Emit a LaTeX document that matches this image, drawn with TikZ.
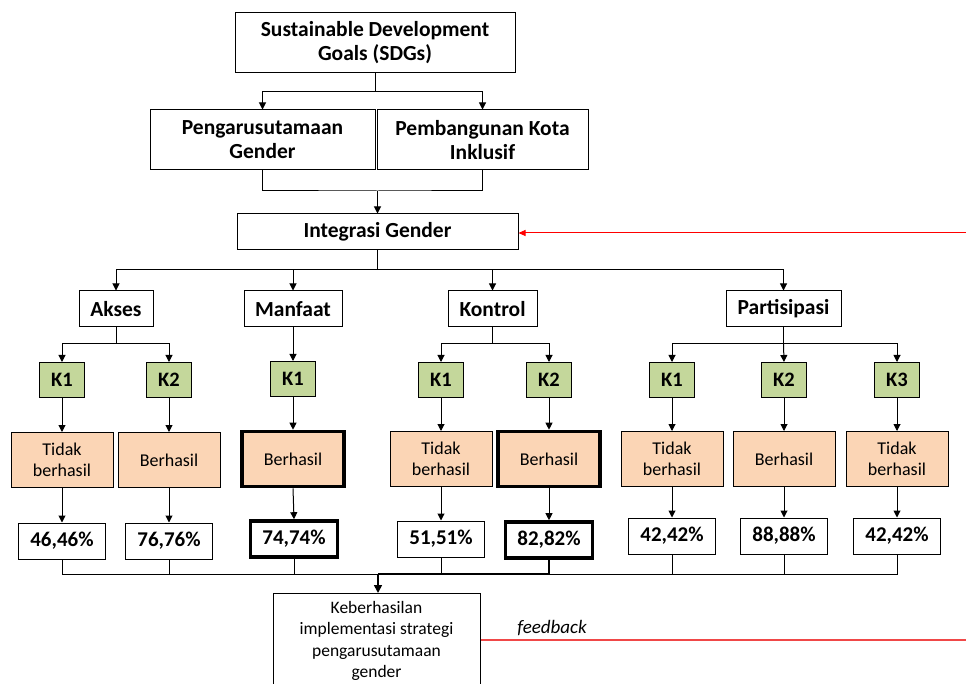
\documentclass[tikz,border=0pt]{standalone}
\usepackage{fontspec}
\setmainfont{Carlito}
\usetikzlibrary{arrows.meta}
\definecolor{kgreen}{HTML}{C4D79B}
\definecolor{korange}{HTML}{FBD5B5}
\definecolor{fbred}{HTML}{F04848}
\tikzset{
  box/.style={draw=black, line width=1pt, fill=white, align=center, inner sep=2pt},
  hdr/.style={box, font=\fontsize{21.5}{24}\selectfont\bfseries},
  kbox/.style={box, fill=kgreen, minimum width=45pt, minimum height=35pt, font=\fontsize{20.5}{23}\selectfont\bfseries},
  obox/.style={box, fill=korange, minimum width=102pt, minimum height=55pt, font=\fontsize{18}{21}\selectfont},
  pbox/.style={box, minimum width=87pt, minimum height=36pt, font=\fontsize{21}{23}\selectfont\bfseries},
  heavy/.style={line width=3.6pt},
  arr/.style={line width=1pt, -{Triangle[length=7pt,width=7pt]}},
  ln/.style={line width=1pt},
}
\begin{document}
\begin{tikzpicture}[x=1pt,y=-1pt]
\useasboundingbox (0,0) rectangle (966,684);
\clip (0,0) rectangle (966,684);
% top
\node[hdr, minimum width=280pt, minimum height=60pt] (sdg) at (375,43) {Sustainable Development\\Goals (SDGs)};
\node[hdr, minimum width=225pt, minimum height=60pt] (pg) at (262.5,140) {Pengarusutamaan\\Gender};
\node[hdr, minimum width=211pt, minimum height=60pt] (pk) at (482.5,140) {Pembangunan Kota\\Inklusif};
\node[hdr, minimum width=281pt, minimum height=36pt] (ig) at (377.5,232) {Integrasi Gender};
% dimensions
\node[hdr, minimum width=74pt, minimum height=36pt] (ak) at (116,309) {Akses};
\node[hdr, minimum width=98pt, minimum height=36pt] (mf) at (293,309) {Manfaat};
\node[hdr, minimum width=89pt, minimum height=36pt] (kt) at (492.5,309) {Kontrol};
\node[hdr, minimum width=115pt, minimum height=36pt] (pt) at (783.5,309) {Partisipasi};
% K boxes
\node[kbox] (k1) at (62,380) {K1};
\node[kbox] (k2) at (169,380) {K2};
\node[kbox] (k3) at (293,379) {K1};
\node[kbox] (k4) at (441,380) {K1};
\node[kbox] (k5) at (549,380) {K2};
\node[kbox] (k6) at (672,380) {K1};
\node[kbox] (k7) at (784,380) {K2};
\node[kbox] (k8) at (897,380) {K3};
% orange boxes
\node[obox] (o1) at (62,460) {Tidak\\berhasil};
\node[obox] (o2) at (169,460) {Berhasil};
\node[obox, heavy] (o3) at (293,459) {Berhasil};
\node[obox] (o4) at (441,459) {Tidak\\berhasil};
\node[obox, heavy] (o5) at (549,459) {Berhasil};
\node[obox] (o6) at (672,459) {Tidak\\berhasil};
\node[obox] (o7) at (784,459) {Berhasil};
\node[obox] (o8) at (897,459) {Tidak\\berhasil};
% percent boxes
\node[pbox] (p1) at (62,541) {46,46\%};
\node[pbox] (p2) at (169,541) {76,76\%};
\node[pbox, heavy] (p3) at (294,539) {74,74\%};
\node[pbox] (p4) at (441,539) {51,51\%};
\node[pbox, heavy] (p5) at (549,540) {82,82\%};
\node[pbox] (p6) at (672,536) {42,42\%};
\node[pbox] (p7) at (784,536) {88,88\%};
\node[pbox] (p8) at (897,536) {42,42\%};
% bottom
\node[box, minimum width=207pt, minimum height=95pt, anchor=north, inner sep=2pt, font=\fontsize{17.5}{21.5}\selectfont] (kb) at (376.5,593) {Keberhasilan\\implementasi strategi\\pengarusutamaan\\gender};
\node[font=\itshape\fontsize{19}{21}\selectfont] (fbl) at (552,628) {feedback};
% junctions
\coordinate (j0) at (375,92);
\coordinate (j1) at (377.5,191);
\coordinate (j2) at (377.5,270);
\coordinate (ja) at (116,344);
\coordinate (jk) at (492.5,344);
\coordinate (jp) at (783.5,344);
\coordinate (j3) at (378,574);
\coordinate (rfar) at (966,233);
\coordinate (ffar) at (966,640);
% connectors top
\draw[ln] (sdg.south) -- (j0);
\draw[arr] (j0) -| (pg.north);
\draw[arr] (j0) -| (pk.north);
\draw[ln] (pg.south) |- (j1) -| (pk.south);
\draw[arr] (j1) -- (ig.north);
\draw[ln] (ig.south) -- (j2);
\draw[arr] (j2) -| (ak.north);
\draw[arr] (j2) -| (mf.north);
\draw[arr] (j2) -| (kt.north);
\draw[arr] (j2) -| (pt.north);
% to K
\draw[ln] (ak.south) -- (ja);
\draw[arr] (ja) -| (k1.north);
\draw[arr] (ja) -| (k2.north);
\draw[arr] (mf.south) -- (k3.north);
\draw[ln] (kt.south) -- (jk);
\draw[arr] (jk) -| (k4.north);
\draw[arr] (jk) -| (k5.north);
\draw[ln] (pt.south) -- (jp);
\draw[arr] (jp) -| (k6.north);
\draw[arr] (jp) -- (k7.north);
\draw[arr] (jp) -| (k8.north);
% K to outcome to percent
\foreach \i in {1,...,8}{
  \draw[arr] (k\i.south) -- (o\i.north);
  \draw[arr] (o\i.south) -- (p\i.north);
}
% collection
\draw[ln] (p1.south) |- (j3);
\draw[ln] (p2.south) -- (p2.south |- j3);
\draw[ln] (p3.south) -- (p3.south |- j3);
\draw[ln] (p4.south) -- (p4.south |- j3);
\draw[ln] (p6.south) -- (p6.south |- j3);
\draw[ln] (p7.south) -- (p7.south |- j3);
\draw[ln] (p8.south) |- (j3);
\draw[line width=2.2pt] (p5.south) |- (j3);
\draw[line width=1.6pt, -{Triangle[length=8pt,width=8pt]}] (j3) -- (kb.north -| j3);
% red lines
\draw[red, line width=1pt, -{Triangle[length=7pt,width=6pt]}] (rfar) -- (ig.east |- rfar);
\draw[fbred, line width=1.2pt] (kb.east |- ffar) -- (ffar);
\end{tikzpicture}
\end{document}
